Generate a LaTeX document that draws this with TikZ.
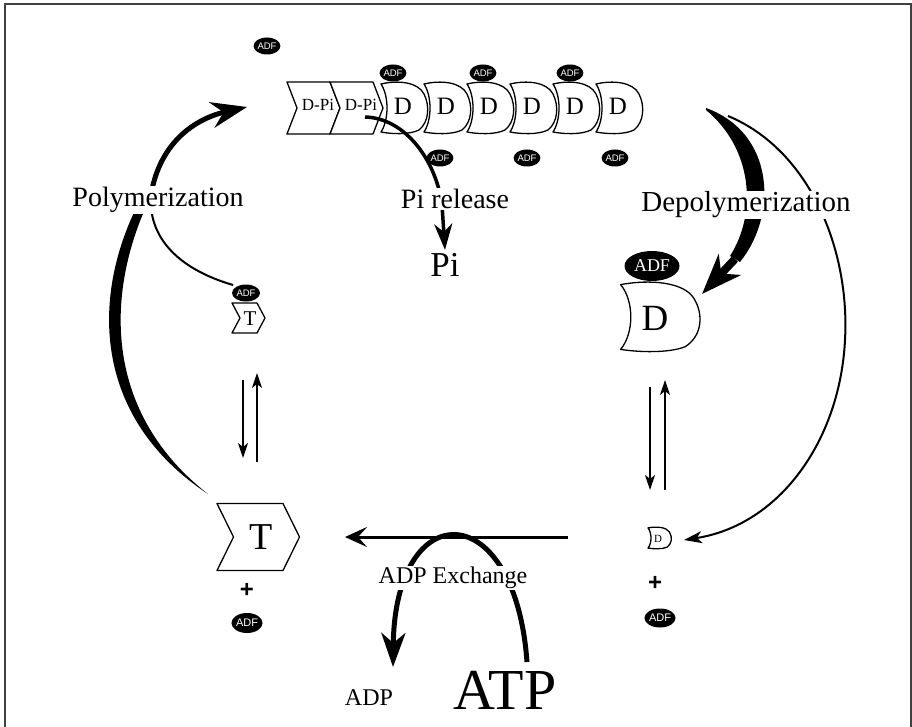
\documentclass[tikz,border=0pt]{standalone}
\usepackage{fontspec}
\setmainfont{Liberation Serif}
\setsansfont{Liberation Sans}
\usetikzlibrary{arrows.meta,shapes.geometric}

\newcommand{\fs}[1]{\fontsize{#1}{#1}\selectfont}

\tikzset{
  shell/.style={draw, fill=white, line width=1.3pt, line join=round},
  adf/.style={ellipse, fill=black, text=white, inner sep=0pt,
    minimum width=25pt, minimum height=17pt, font=\sffamily\fs{9.5}},
  lbl/.style={fill=white, inner sep=1pt, font=\fs{28}},
  plus/.style={font=\sffamily\bfseries\fs{24}},
  eqarrow/.style={line width=1.5pt, -{Stealth[length=15pt, width=10pt, inset=4pt]}},
  % actin subunit, ADP form
  pics/bean/.style={code={
    \draw[shell] (-22,-24) .. controls (-5,-28) and (15,-26) .. (21,-14)
      .. controls (27,-2) and (26,14) .. (16,22)
      .. controls (6,27) and (-12,26) .. (-22,24)
      .. controls (-14,12) and (-14,-12) .. (-22,-24) -- cycle;}},
  % actin subunit, ATP / ADP-Pi form: width, half height, point depth
  pics/chev/.style n args={3}{code={
    \draw[shell] (0,-#2) -- (#1,-#2) -- (#1+#3,0) -- (#1,#2) -- (0,#2) -- (#3,0) -- cycle;}},
}

\begin{document}
\begin{tikzpicture}[x=1pt, y=-1pt]
  \useasboundingbox (0,0) rectangle (912,727);
  \draw[line width=1.5pt, black!75] (5,740) -- (5,4) -- (911,4) -- (911,740);

  % filament
  \pic at (287,108) {chev={43}{26}{10}};
  \pic at (330,108) {chev={43}{26}{10}};
  \node[font=\fs{17}] (dpi1) at (318,105) {D-Pi};
  \node[font=\fs{17}] (dpi2) at (361,105) {D-Pi};
  \foreach \i/\x in {1/403,2/446,3/489,4/532,5/575,6/618} {
    \pic at (\x,108) {bean};
    \node[font=\fs{25}] (sub\i) at (\x,106) {D};
  }
  \foreach \i/\x in {1/393,2/483,3/570}
    \node[adf] (adftop\i) at (\x,73) {ADF};
  \foreach \i/\x in {1/440,2/527,3/615}
    \node[adf] (adfbot\i) at (\x,158) {ADF};
  \node[adf] (adffree) at (267,46) {ADF};

  % Pi release
  \node[font=\fs{35}] (pi) at (445,265) {Pi};
  \coordinate (pistart) at (365,117);
  \draw[line width=3.5pt, -{Stealth[length=26pt, width=18pt, inset=8pt]}]
    (pistart) .. controls (405,118) and (436,160) .. (442,205) -- (pi.north);
  \node[lbl] (pirel) at (455,199) {Pi release};

  % ADF-D coming off the end
  \pic[xscale=1.7, yscale=1.35] at (658,317) {bean};
  \node[font=\fs{37}] (dbig) at (655,318) {D};
  \node[adf, minimum width=55pt, minimum height=30pt, font=\fs{18}] (adfbig) at (652,266) {ADF};
  \coordinate (dtip) at (702,294);
  \fill (706,108) .. controls (775,133) and (778,215) .. (740,262)
    -- (730,256) .. controls (758,212) and (752,148) .. (706,110) -- cycle;
  \draw[line width=8pt, -{Stealth[length=40pt, width=30pt, inset=12pt]}] (735,259) -- (dtip);

  % dissociation
  \pic[xscale=0.5, yscale=0.42] at (659,538) {bean};
  \node[font=\fs{11}] (dsmall) at (658,539) {D};
  \coordinate (dsmallin) at (684,540);
  \draw[line width=2pt, -{Stealth[length=18pt, width=12pt, inset=5pt]}]
    (728,116) .. controls (810,150) and (850,250) .. (845,340)
    .. controls (840,440) and (780,525) .. (dsmallin);
  \node[lbl, font=\fs{29}] (depoly) at (746,205) {Depolymerization};
  \draw[eqarrow] (650,387) -- (650,490);
  \draw[eqarrow] (665,490) -- (665,380);
  \node[plus] (plusr) at (655,583) {+};
  \node[adf, minimum width=31pt, minimum height=19pt, font=\sffamily\fs{11}] (adfr) at (660,618) {ADF};

  % nucleotide exchange
  \draw[line width=5pt, -{Stealth[length=34pt, width=24pt, inset=10pt]}]
    (527,662) .. controls (515,495) and (395,495) .. (393,667);
  \coordinate (exstart) at (568,537);
  \coordinate (exend) at (345,537);
  \draw[line width=3pt, -{Stealth[length=22pt, width=20pt, inset=9pt]}] (exstart) -- (exend);
  \node[lbl, font=\fs{24}] (exch) at (453,578) {ADP Exchange};
  \node[font=\fs{24}] (adp) at (369,698) {ADP};
  \node[font=\fs{58}] (atp) at (505,690) {ATP};

  % ATP monomer
  \pic at (217,537) {chev={66}{33.5}{16.5}};
  \node[font=\fs{38}] (tbig) at (261,537) {T};
  \node[plus] (plusl) at (247,590) {+};
  \node[adf, minimum width=30pt, minimum height=20pt, font=\sffamily\fs{11}] (adfl) at (247,623) {ADF};
  \draw[eqarrow] (243,380) -- (243,458);
  \draw[eqarrow] (257,462) -- (257,373);

  % ADF-ATP monomer
  \pic at (232,318) {chev={25}{15}{8}};
  \node[font=\fs{21}] (tsmall) at (250,319) {T};
  \node[adf, minimum width=28pt, minimum height=17pt] (adft) at (246,293) {ADF};

  % polymerization
  \coordinate (polytip) at (247,107);
  \fill (208,494) .. controls (84,412) and (92,280) .. (148,186)
    -- (155,188) .. controls (106,282) and (98,408) .. (208,494) -- cycle;
  \draw[line width=2pt] (233,285) .. controls (175,268) and (148,235) .. (151,195);
  \draw[line width=5pt, -{Stealth[length=36pt, width=26pt, inset=12pt]}]
    (151,195) .. controls (160,140) and (198,118) .. (polytip);
  \node[lbl] (poly) at (158,200) {Polymerization};
\end{tikzpicture}
\end{document}
